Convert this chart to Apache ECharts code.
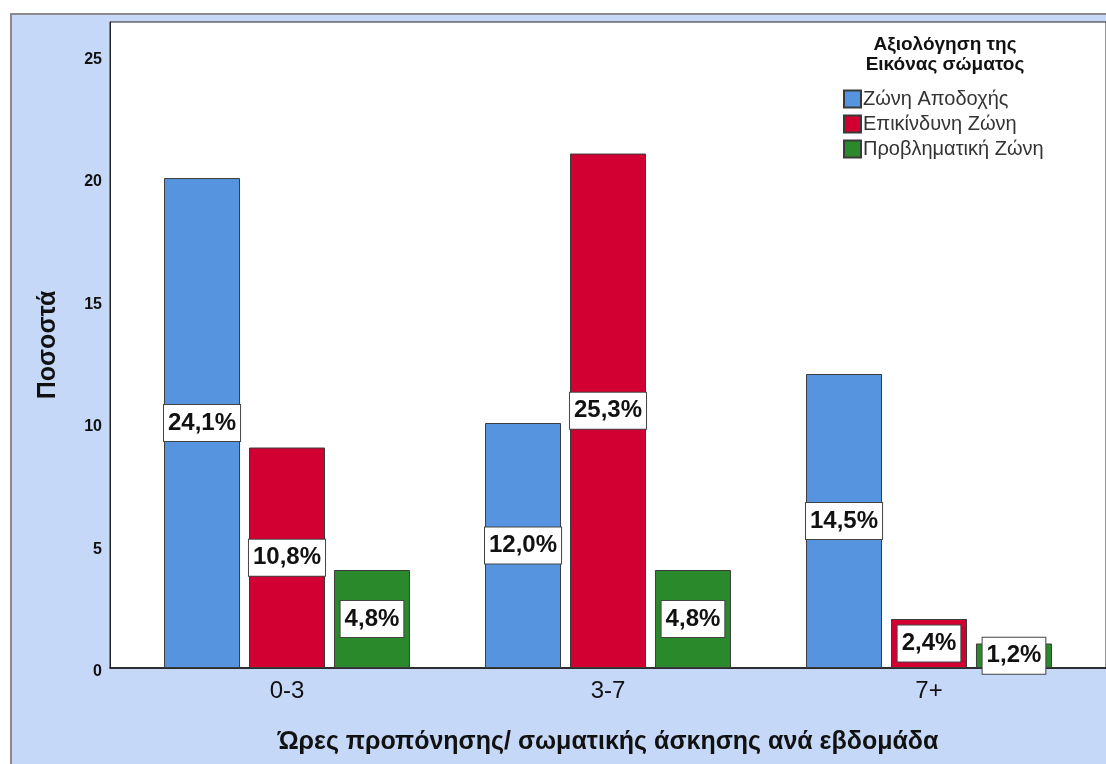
<!DOCTYPE html>
<html><head><meta charset="utf-8">
<script src="https://cdn.jsdelivr.net/npm/echarts@6/dist/echarts.min.js"></script>
<style>html,body{margin:0;padding:0;background:#fff}#c{width:1106px;height:764px}</style>
</head><body><div id="c"></div>
<script>
var categories = ['0-3', '3-7', '7+'];
var seriesNames = ['Ζώνη Αποδοχής', 'Επικίνδυνη Ζώνη', 'Προβληματική Ζώνη'];
var acceptance = [20, 10, 12];
var risky = [9, 21, 2];
var problematic = [4, 4, 1];
var acceptanceLabels = ['24,1%', '12,0%', '14,5%'];
var riskyLabels = ['10,8%', '25,3%', '2,4%'];
var problematicLabels = ['4,8%', '4,8%', '1,2%'];
var yTicks = [0, 5, 10, 15, 20, 25];
var colors = ['#5794E0', '#D20032', '#2A892B'];
var legendTitle = 'Αξιολόγηση της\nΕικόνας σώματος';
var xTitle = 'Ώρες προπόνησης/ σωματικής άσκησης ανά εβδομάδα';
var yTitle = 'Ποσοστά';

var FONT = 'Liberation Sans, Arial, sans-serif';
var gridTop = 22, gridBottom = 96, yMax = 26.37;

function mk(name, vals, labs, color) {
  return {
    name: name, type: 'bar', xAxisIndex: 1, yAxisIndex: 1,
    data: vals.map(function (v, i) { return { value: v, lab: labs[i] }; }),
    barWidth: 76, barGap: '11.8%',
    itemStyle: { color: color, borderColor: '#3a3a3a', borderWidth: 1 },
    label: {
      show: true, position: 'inside',
      formatter: function (p) { return p.data.lab; },
      fontFamily: FONT, fontWeight: 'bold', fontSize: 24, lineHeight: 24, color: '#111',
      backgroundColor: '#fff', borderColor: '#444', borderWidth: 1,
      padding: [6, 4, 6, 4]
    }
  };
}

var chart = echarts.init(document.getElementById('c'), null, { renderer: 'canvas' });
chart.setOption({
  backgroundColor: '#fff',
  animation: false,
  graphic: [
    { type: 'rect', z: -100, shape: { x: 11, y: 14, width: 1110, height: 760 },
      style: { fill: '#C6D8F7', stroke: '#8a8a8a', lineWidth: 2 } },
    { type: 'text', x: 945, y: 35, z: 100,
      style: { text: legendTitle, align: 'center', verticalAlign: 'top', font: 'bold 19px ' + FONT, fill: '#111', lineHeight: 20 } }
  ],
  grid: [
    { left: 110, right: 0, top: gridTop, bottom: gridBottom, show: true, backgroundColor: '#fff', borderColor: '#222', borderWidth: 1, outerBoundsMode: 'none', containLabel: false },
    { left: 126.5, width: 963, top: gridTop, bottom: gridBottom, outerBoundsMode: 'none', containLabel: false }
  ],
  legend: {
    data: seriesNames, orient: 'vertical', left: 843, top: 89, padding: 0,
    itemWidth: 17, itemHeight: 17, itemGap: 5, icon: 'rect',
    textStyle: { fontFamily: FONT, fontSize: 20, lineHeight: 20, color: '#333', padding: [0, 0, 0, -3] }
  },
  xAxis: [
    { type: 'value', gridIndex: 0, min: 0, max: 1, show: true,
      axisLine: { show: true, onZero: false, lineStyle: { color: '#111', width: 1.5 } },
      axisTick: { show: false }, axisLabel: { show: false }, splitLine: { show: false },
      name: xTitle, nameLocation: 'middle', nameGap: 62,
      nameTextStyle: { fontFamily: FONT, fontWeight: 'bold', fontSize: 25, color: '#111' }
    },
    { type: 'category', gridIndex: 1, data: categories,
      axisLine: { show: false }, axisTick: { show: false },
      axisLabel: { fontFamily: FONT, fontSize: 24, color: '#111', margin: 11 }
    }
  ],
  yAxis: [
    { type: 'value', gridIndex: 0, min: 0, max: yMax, interval: 5,
      axisLine: { show: true, lineStyle: { color: '#222' } }, axisTick: { show: false },
      splitLine: { show: false },
      axisLabel: { fontFamily: FONT, fontWeight: 'bold', fontSize: 16, color: '#111', margin: 8,
        verticalAlign: 'top', lineHeight: 8, showMaxLabel: false,
        formatter: function (v) { return yTicks.indexOf(v) >= 0 ? String(v) : ''; } },
      name: yTitle, nameLocation: 'middle', nameGap: 49, nameRotate: 90,
      nameTextStyle: { fontFamily: FONT, fontWeight: 'bold', fontSize: 25, color: '#111' }
    },
    { type: 'value', gridIndex: 1, min: 0, max: yMax, show: false }
  ],
  series: [
    mk(seriesNames[0], acceptance, acceptanceLabels, colors[0]),
    mk(seriesNames[1], risky, riskyLabels, colors[1]),
    mk(seriesNames[2], problematic, problematicLabels, colors[2])
  ]
});
</script></body></html>
